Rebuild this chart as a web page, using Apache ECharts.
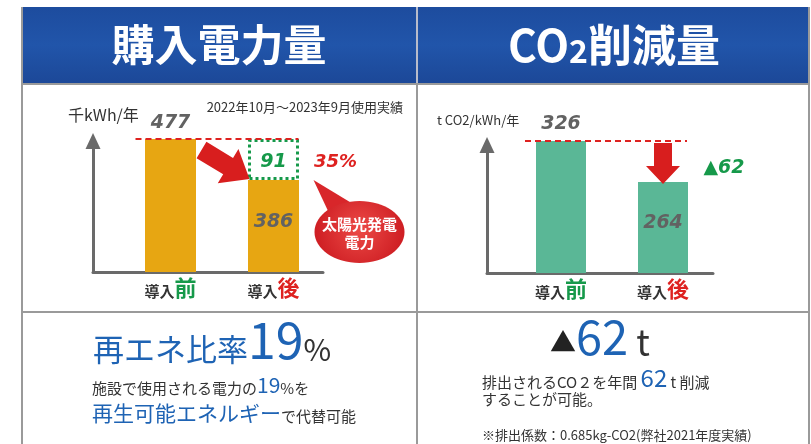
<!DOCTYPE html>
<html><head><meta charset="utf-8">
<script src="https://cdn.jsdelivr.net/npm/echarts@6/dist/echarts.min.js"></script>
<style>html,body{margin:0;padding:0;background:#fff}#c{width:811px;height:444px}</style>
</head><body><div id="c"></div>
<script>
// ---- data ----
const categories = ['導入前', '導入後'];
const powerPurchased = [477, 386];       // 千kWh/年
const powerSolar = ['-', 91];            // solar share after introduction
const powerSolarShareText = '35%';
const co2Values = [326, 264];            // t CO2/年
const co2Reduction = 62;
const renewRatio = 19;
const powerAxisMin = 182, powerAxisMax = 477;
const co2AxisMin = 126, co2AxisMax = 326;
const titles = ['購入電力量', 'CO2削減量'];
const powerUnit = '千kWh/年';
const co2Unit = 't CO2/kWh/年';
const periodNote = '2022年10月～2023年9月使用実績';
const bubbleLines = ['太陽光発電', '電力'];
const footNote = '※排出係数：0.685kg-CO2(弊社2021年度実績)';

// ---- styles ----
const JP = '"Noto Sans CJK JP", sans-serif';
const NUM = '"DejaVu Sans", Verdana, sans-serif';
const GOLD = '#E7A612', TEAL = '#5AB796', GREEN = '#16994A', RED = '#DE2220';
const BLUE = '#1E63B4', AX = '#6a6a6a', GREYNUM = '#626262', DARK = '#333';

const chart = echarts.init(document.getElementById('c'), null, {renderer: 'canvas'});

function catLabel(v, i) {
  return '{a|' + v.slice(0, 2) + '}{' + (i === 0 ? 'g' : 'r') + '|' + v.slice(2) + '}';
}
const catRich = {
  a: {fontSize: 15, fontWeight: 'bold', color: DARK, fontFamily: JP, verticalAlign: 'bottom'},
  g: {fontSize: 22, fontWeight: 'bold', color: GREEN, fontFamily: JP, verticalAlign: 'bottom'},
  r: {fontSize: 22, fontWeight: 'bold', color: RED, fontFamily: JP, verticalAlign: 'bottom'}
};
const numLabel = {show: true, fontFamily: NUM, fontWeight: 'bold', fontStyle: 'italic', fontSize: 19, color: GREYNUM};

function barAxisX(grid) {
  return {gridIndex: grid, type: 'category', data: categories,
    axisLine: {show: false}, axisTick: {show: false},
    axisLabel: {margin: 5, formatter: catLabel, rich: catRich}};
}
function barAxisY(grid, min, max) {
  return {gridIndex: grid, type: 'value', min: min, max: max, show: false, splitLine: {show: false}};
}
function frameX(grid) {
  return {gridIndex: grid, type: 'category', data: ['', ''],
    axisLine: {show: true, onZero: false, lineStyle: {color: AX, width: 3}},
    axisTick: {show: false}, axisLabel: {show: false}};
}
function frameY(grid) {
  return {gridIndex: grid, type: 'value', min: 0, max: 1,
    axisLine: {show: true, onZero: false, symbol: ['none', 'triangle'], symbolSize: [15, 16], lineStyle: {color: AX, width: 3}},
    axisTick: {show: false}, axisLabel: {show: false}, splitLine: {show: false}};
}

chart.setOption({
  animation: false,
  backgroundColor: '#fff',
  grid: [
    {left: 119, width: 206, top: 139, height: 133},
    {left: 510, width: 204, top: 141, height: 132},
    {left: 93, width: 230, top: 141, height: 131},
    {left: 487, width: 226, top: 145, height: 128}
  ],
  xAxis: [barAxisX(0), barAxisX(1), frameX(2), frameX(3)],
  yAxis: [barAxisY(0, powerAxisMin, powerAxisMax), barAxisY(1, co2AxisMin, co2AxisMax), frameY(2), frameY(3)],
  series: [
    {type: 'bar', xAxisIndex: 0, yAxisIndex: 0, stack: 'p', barWidth: 51,
      itemStyle: {color: GOLD},
      data: powerPurchased.map((v, i) => ({value: v,
        label: i === 0 ? {position: 'top', distance: 6} : {position: 'inside', offset: [0, -4]}})),
      label: numLabel},
    {type: 'bar', xAxisIndex: 0, yAxisIndex: 0, stack: 'p', barWidth: 51,
      itemStyle: {color: 'rgba(0,0,0,0)', borderColor: GREEN, borderWidth: 3, borderType: [3, 3]},
      data: powerSolar,
      label: Object.assign({}, numLabel, {position: 'inside', color: GREEN, offset: [0, 3]})},
    {type: 'bar', xAxisIndex: 1, yAxisIndex: 1, barWidth: 50,
      itemStyle: {color: TEAL},
      data: co2Values.map((v, i) => ({value: v,
        label: i === 0 ? {position: 'top', distance: 7} : {position: 'inside', offset: [0, -4]}})),
      label: numLabel}
  ]
});

// anchors from the library's scales
const L0 = chart.convertToPixel({xAxisIndex: 0, yAxisIndex: 0}, [categories[0], powerPurchased[0]]);
const L1 = chart.convertToPixel({xAxisIndex: 0, yAxisIndex: 0}, [categories[1], powerPurchased[1]]);
const R0 = chart.convertToPixel({xAxisIndex: 1, yAxisIndex: 1}, [categories[0], co2Values[0]]);
const R1 = chart.convertToPixel({xAxisIndex: 1, yAxisIndex: 1}, [categories[1], co2Values[1]]);

function arrowPoly(x1, y1, x2, y2, sw, hw, hl) {
  const dx = x2 - x1, dy = y2 - y1, len = Math.sqrt(dx * dx + dy * dy);
  const ux = dx / len, uy = dy / len, nx = -uy, ny = ux;
  const bx = x2 - ux * hl, by = y2 - uy * hl;
  return [
    [x1 + nx * sw / 2, y1 + ny * sw / 2], [bx + nx * sw / 2, by + ny * sw / 2],
    [bx + nx * hw / 2, by + ny * hw / 2], [x2, y2],
    [bx - nx * hw / 2, by - ny * hw / 2], [bx - nx * sw / 2, by - ny * sw / 2],
    [x1 - nx * sw / 2, y1 - ny * sw / 2]
  ];
}

const g = [];
// header
g.push({type: 'rect', shape: {x: 22, y: 7, width: 787, height: 76}, style: {fill: new echarts.graphic.LinearGradient(0, 0, 0, 1, [{offset: 0, color: '#1d4c9e'}, {offset: 0.5, color: '#2155aa'}, {offset: 1, color: '#1c4898'}])}, z: 1});
g.push({type: 'line', shape: {x1: 417, y1: 7, x2: 417, y2: 83}, style: {stroke: '#b8bccb', lineWidth: 2}, z: 2});
g.push({type: 'text', x: 219, y: 45, style: {text: titles[0], fill: '#fff', fontSize: 43, fontWeight: 'bold', fontFamily: JP, align: 'center', verticalAlign: 'middle'}, z: 3});
g.push({type: 'text', x: 614, y: 45, style: {text: '{a|CO}{b|2}{a|削減量}', align: 'center', verticalAlign: 'middle',
  rich: {a: {fill: '#fff', fontSize: 44, fontWeight: 'bold', fontFamily: JP, verticalAlign: 'bottom'},
         b: {fill: '#fff', fontSize: 32, fontWeight: 'bold', fontFamily: JP, verticalAlign: 'bottom'}}}, z: 3});
// panel borders
g.push({type: 'line', shape: {x1: 22, y1: 7, x2: 22, y2: 444}, style: {stroke: '#9a9a9a', lineWidth: 2}, z: 2});
g.push({type: 'line', shape: {x1: 809, y1: 7, x2: 809, y2: 444}, style: {stroke: '#9a9a9a', lineWidth: 2}, z: 2});
g.push({type: 'line', shape: {x1: 22, y1: 84, x2: 809, y2: 84}, style: {stroke: '#9a9a9a', lineWidth: 2}, z: 2});
g.push({type: 'line', shape: {x1: 417, y1: 84, x2: 417, y2: 444}, style: {stroke: '#9a9a9a', lineWidth: 2}, z: 2});
g.push({type: 'line', shape: {x1: 22, y1: 312, x2: 809, y2: 312}, style: {stroke: '#9a9a9a', lineWidth: 2}, z: 2});

// left chart annotations
g.push({type: 'text', x: 68, y: 115, style: {text: powerUnit, fill: DARK, fontSize: 16, fontFamily: JP, verticalAlign: 'middle'}, z: 5});
g.push({type: 'text', x: 403, y: 107, style: {text: periodNote, fill: DARK, fontSize: 13, fontFamily: JP, align: 'right', verticalAlign: 'middle'}, z: 5});
g.push({type: 'line', shape: {x1: L0[0] - 35, y1: L0[1], x2: L1[0] + 25, y2: L0[1]}, style: {stroke: RED, lineWidth: 2, lineDash: [6, 4]}, z: 50});
g.push({type: 'polygon', shape: {points: arrowPoly(L0[0] + 31, L0[1] + 11, L1[0] - 24, L1[1] - 1, 19, 40, 25)}, style: {fill: '#d81e1e'}, z: 50});
g.push({type: 'text', x: L1[0] + 62, y: (L0[1] + L1[1]) / 2 + 3, style: {text: powerSolarShareText, fill: RED, fontSize: 18, fontWeight: 'bold', fontStyle: 'italic', fontFamily: NUM, align: 'center', verticalAlign: 'middle'}, z: 50});
// speech bubble
const bx = L1[0] + 86, by = L1[1] + 52;
g.push({type: 'polygon', shape: {points: [[bx - 46, L1[1]], [bx - 31, by - 20], [bx - 8, by - 29]]}, style: {fill: '#d8262a'}, z: 50});
g.push({type: 'ellipse', shape: {cx: bx, cy: by, rx: 45, ry: 31},
  style: {fill: new echarts.graphic.RadialGradient(0.5, 0.45, 0.7, [{offset: 0, color: '#ec4a46'}, {offset: 1, color: '#cf1f24'}])}, z: 51});
g.push({type: 'text', x: bx, y: by + 1, style: {text: bubbleLines.join('\n'), fill: '#fff', fontSize: 15, fontWeight: 'bold', fontFamily: JP, align: 'center', verticalAlign: 'middle', lineHeight: 18}, z: 52});

// right chart annotations
g.push({type: 'text', x: 437, y: 120, style: {text: co2Unit, fill: DARK, fontSize: 13, fontFamily: JP, verticalAlign: 'middle'}, z: 5});
g.push({type: 'line', shape: {x1: R0[0] - 36, y1: R0[1], x2: R1[0] + 24, y2: R0[1]}, style: {stroke: RED, lineWidth: 2, lineDash: [6, 4]}, z: 50});
g.push({type: 'polygon', shape: {points: arrowPoly(R1[0], R0[1] + 2, R1[0], R1[1] + 2, 18, 34, 18)}, style: {fill: '#d81e1e'}, z: 50});
g.push({type: 'text', x: R1[0] + 61, y: (R0[1] + R1[1]) / 2 + 7, style: {text: '▲' + co2Reduction, fill: GREEN, fontSize: 19, fontWeight: 'bold', fontStyle: 'italic', fontFamily: NUM, align: 'center', verticalAlign: 'middle'}, z: 50});

// bottom left
g.push({type: 'text', x: 93, y: 340, style: {text: '{a|再エネ比率}{b|' + renewRatio + '}{c|%}', verticalAlign: 'middle',
  rich: {a: {fill: BLUE, fontSize: 31, fontFamily: JP, verticalAlign: 'bottom'},
         b: {fill: BLUE, fontSize: 50, fontFamily: JP, verticalAlign: 'bottom'},
         c: {fill: DARK, fontSize: 30, fontFamily: JP, verticalAlign: 'bottom'}}}, z: 5});
g.push({type: 'text', x: 92, y: 385, style: {text: '{a|施設で使用される電力の}{b|' + renewRatio + '}{a|%を}', verticalAlign: 'middle',
  rich: {a: {fill: DARK, fontSize: 15, fontFamily: JP, verticalAlign: 'bottom'},
         b: {fill: BLUE, fontSize: 21, fontFamily: JP, verticalAlign: 'bottom'}}}, z: 5});
g.push({type: 'text', x: 92, y: 413, style: {text: '{b|再生可能エネルギー}{a|で代替可能}', verticalAlign: 'middle',
  rich: {a: {fill: DARK, fontSize: 15, fontFamily: JP, verticalAlign: 'bottom'},
         b: {fill: BLUE, fontSize: 21, fontFamily: JP, verticalAlign: 'bottom'}}}, z: 5});

// bottom right
g.push({type: 'text', x: 550, y: 337, style: {text: '{a|▲}{b|' + co2Reduction + '}{c| t}', verticalAlign: 'middle',
  rich: {a: {fill: '#222', fontSize: 26, fontFamily: JP, verticalAlign: 'bottom', padding: [0, 0, 5, 0]},
         b: {fill: BLUE, fontSize: 47, fontFamily: JP, verticalAlign: 'bottom'},
         c: {fill: DARK, fontSize: 36, fontFamily: JP, verticalAlign: 'bottom'}}}, z: 5});
g.push({type: 'text', x: 482, y: 378, style: {text: '{a|排出されるCO２を年間 }{b|' + co2Reduction + '}{a| t 削減}', verticalAlign: 'middle',
  rich: {a: {fill: DARK, fontSize: 15, fontFamily: JP, verticalAlign: 'bottom'},
         b: {fill: BLUE, fontSize: 24, fontFamily: JP, verticalAlign: 'bottom'}}}, z: 5});
g.push({type: 'text', x: 482, y: 399, style: {text: 'することが可能。', fill: DARK, fontSize: 15, fontFamily: JP, verticalAlign: 'middle'}, z: 5});
g.push({type: 'text', x: 482, y: 435, style: {text: footNote, fill: DARK, fontSize: 13, fontFamily: JP, verticalAlign: 'middle'}, z: 5});

chart.setOption({graphic: {elements: g}});
</script></body></html>
